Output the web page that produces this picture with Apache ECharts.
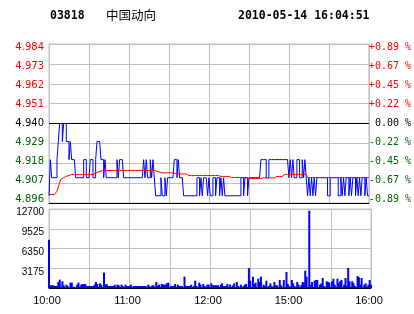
<!DOCTYPE html>
<html><head><meta charset="utf-8">
<script src="https://cdn.jsdelivr.net/npm/echarts@6/dist/echarts.min.js"></script>
<style>html,body{margin:0;padding:0;background:#fff}#c{width:414px;height:314px}</style>
</head><body><div id="c"></div>
<script>
const stockCode = '03818';
const stockName = '中国动向';
const timestamp = '2010-05-14 16:04:51';
const timeTickLabels = ['10:00','','11:00','','12:00','','15:00','','16:00'];
const priceTickLabels = ['4.896','4.907','4.918','4.929','4.940','4.951','4.962','4.973','4.984'];
const pctTickLabels = ['-0.89 %','-0.67 %','-0.45 %','-0.22 %',' 0.00 %','+0.22 %','+0.45 %','+0.67 %','+0.89 %'];
const volTickLabels = ['','3175','6350','9525','12700'];
const prevClose = 4.94;

// one value per trading minute, 10:00-12:30 then 14:30-16:00
const price = [
4.90,4.92,4.91,4.91,4.91,4.91,4.92,4.93,4.94,4.94,
4.93,4.94,4.94,4.93,4.93,4.92,4.93,4.92,4.92,4.92,
4.91,4.91,4.91,4.91,4.91,4.91,4.92,4.92,4.91,4.91,
4.91,4.92,4.92,4.91,4.91,4.92,4.93,4.93,4.93,4.92,
4.92,4.91,4.92,4.91,4.91,4.91,4.91,4.91,4.91,4.91,
4.91,4.92,4.91,4.92,4.92,4.92,4.91,4.91,4.91,4.91,
4.91,4.91,4.91,4.91,4.91,4.91,4.91,4.91,4.91,4.91,
4.91,4.92,4.91,4.92,4.91,4.91,4.92,4.91,4.92,4.91,
4.90,4.90,4.90,4.90,4.91,4.90,4.90,4.91,4.90,4.91,
4.91,4.91,4.91,4.91,4.92,4.92,4.91,4.92,4.91,4.91,
4.91,4.90,4.90,4.90,4.90,4.90,4.90,4.90,4.90,4.90,
4.90,4.91,4.91,4.90,4.91,4.90,4.91,4.91,4.91,4.90,
4.91,4.90,4.90,4.91,4.91,4.90,4.91,4.91,4.90,4.91,
4.90,4.91,4.90,4.90,4.90,4.90,4.90,4.90,4.90,4.90,
4.90,4.90,4.90,4.90,4.91,4.91,4.90,4.91,4.91,4.90,
4.91,4.91,4.91,4.91,4.91,4.91,4.91,4.91,4.91,4.92,
4.92,4.92,4.92,4.91,4.91,4.92,4.92,4.92,4.92,4.92,
4.92,4.92,4.92,4.92,4.92,4.92,4.92,4.92,4.92,4.92,
4.91,4.92,4.91,4.92,4.91,4.91,4.92,4.92,4.91,4.91,
4.92,4.91,4.92,4.91,4.90,4.91,4.90,4.91,4.90,4.91,
4.90,4.91,4.91,4.91,4.91,4.91,4.91,4.91,4.91,4.90,
4.90,4.91,4.91,4.91,4.91,4.91,4.91,4.90,4.90,4.91,
4.90,4.91,4.90,4.91,4.91,4.90,4.91,4.90,4.91,4.91,
4.90,4.91,4.90,4.91,4.90,4.91,4.91,4.90,4.91,4.90,
4.90
];
const avgPrice = [
4.9007,4.9007,4.9007,4.9007,4.9007,4.9007,4.9025,4.9048,4.9075,4.9092,
4.9099,4.9100,4.9103,4.9108,4.9108,4.9112,4.9116,4.9118,4.9118,4.9118,
4.9118,4.9118,4.9118,4.9118,4.9118,4.9118,4.9118,4.9118,4.9118,4.9118,
4.9118,4.9118,4.9118,4.9118,4.9122,4.9125,4.9128,4.9132,4.9134,4.9137,
4.9140,4.9140,4.9140,4.9140,4.9140,4.9140,4.9140,4.9140,4.9140,4.9140,
4.9140,4.9140,4.9140,4.9140,4.9140,4.9140,4.9140,4.9140,4.9140,4.9140,
4.9140,4.9140,4.9140,4.9140,4.9140,4.9140,4.9140,4.9140,4.9140,4.9140,
4.9140,4.9140,4.9140,4.9140,4.9140,4.9140,4.9140,4.9140,4.9140,4.9140,
4.9138,4.9136,4.9131,4.9131,4.9131,4.9127,4.9127,4.9127,4.9127,4.9127,
4.9127,4.9127,4.9127,4.9127,4.9127,4.9121,4.9121,4.9121,4.9121,4.9121,
4.9121,4.9121,4.9121,4.9121,4.9121,4.9112,4.9112,4.9112,4.9112,4.9112,
4.9112,4.9112,4.9112,4.9112,4.9112,4.9112,4.9112,4.9112,4.9112,4.9112,
4.9112,4.9112,4.9112,4.9112,4.9112,4.9112,4.9112,4.9112,4.9107,4.9107,
4.9107,4.9107,4.9107,4.9107,4.9107,4.9107,4.9107,4.9101,4.9101,4.9101,
4.9101,4.9101,4.9101,4.9101,4.9101,4.9101,4.9101,4.9101,4.9101,4.9096,
4.9096,4.9096,4.9096,4.9096,4.9096,4.9096,4.9096,4.9096,4.9096,4.9096,
4.9099,4.9099,4.9099,4.9099,4.9099,4.9099,4.9099,4.9099,4.9099,4.9099,
4.9099,4.9107,4.9107,4.9107,4.9107,4.9107,4.9118,4.9118,4.9118,4.9118,
4.9118,4.9118,4.9118,4.9118,4.9118,4.9118,4.9118,4.9118,4.9118,4.9118,
4.9118,4.9118,4.9118,4.9118,4.9101,4.9101,4.9101,4.9101,4.9101,4.9101,
4.9101,4.9101,4.9101,4.9101,4.9101,4.9101,4.9101,4.9101,4.9101,4.9101,
4.9101,4.9101,4.9101,4.9101,4.9101,4.9101,4.9101,4.9101,4.9101,4.9101,
4.9101,4.9101,4.9101,4.9101,4.9101,4.9101,4.9101,4.9101,4.9101,4.9101,
4.9101,4.9101,4.9101,4.9101,4.9101,4.9101,4.9101,4.9101,4.9101,4.9101,
4.9101
];
const volume = [
7770,430,430,430,320,320,320,960,1340,200,
1070,430,150,540,320,100,860,860,150,210,
100,540,860,150,540,640,640,640,320,320,
320,320,320,320,540,960,640,200,750,540,
150,2470,540,640,320,320,320,320,320,540,
150,540,430,150,540,320,150,540,320,320,
320,540,150,320,320,320,320,320,320,320,
320,320,320,150,540,320,150,430,430,150,
960,320,540,200,640,540,540,540,750,860,
150,320,320,320,640,150,540,320,320,320,
150,1820,320,320,320,320,540,150,320,1180,
320,150,860,540,150,640,320,150,540,540,
150,750,430,430,430,430,430,150,540,750,
320,320,320,640,150,540,150,430,750,150,
960,320,150,540,150,320,540,640,150,3220,
1180,150,1820,640,858,150,1500,965,1820,150,
536,320,1180,150,320,750,320,150,965,430,
430,150,1290,430,150,1290,150,2570,643,320,
150,1290,750,320,150,965,536,150,430,965,
858,2790,1820,150,12430,536,965,150,1180,1290,
1290,150,536,750,1610,320,150,1072,965,858,
150,1072,1500,536,150,1500,750,1072,1290,150,
536,1610,320,3220,1072,150,1072,750,320,150,
1930,1715,536,1610,150,536,750,150,536,1290,
536
];

const GRAY = '#c0c0c0';
const GREEN = '#006400';
const xy = arr => arr.map((v, i) => [i, v]);
const idxOf = v => Math.round((v - 4.896) / 0.011);
const labelColor = j => j > 4 ? '#ff0000' : (j === 4 ? '#000000' : GREEN);
function shiftPad(j) {
  const s = -3.62 + 0.915 * j;
  return s >= 0 ? [2 * s, 0, 0, 0] : [0, 0, -2 * s, 0];
}
const richLeft = {}, richRight = {};
for (let j = 0; j < 9; j++) {
  richLeft['s' + j] = {color: labelColor(j), padding: shiftPad(j), fontFamily: 'DejaVu Sans', fontSize: 10};
  richRight['s' + j] = {color: labelColor(j), padding: shiftPad(j), fontFamily: 'DejaVu Sans Mono', fontSize: 10};
}

const chart = echarts.init(document.getElementById('c'), null, {renderer: 'canvas'});
chart.setOption({
  animation: false,
  backgroundColor: '#ffffff',
  graphic: [
    {type: 'text', x: 50, y: 16.5, style: {text: stockCode, font: 'bold 11.5px "DejaVu Sans Mono"', fill: '#000', verticalAlign: 'middle'}},
    {type: 'text', x: 106, y: 15.5, style: {text: stockName, font: '12.5px "Noto Sans CJK SC"', fill: '#000', verticalAlign: 'middle'}},
    {type: 'text', x: 238, y: 16.5, style: {text: timestamp, font: 'bold 11.5px "DejaVu Sans Mono"', fill: '#000', verticalAlign: 'middle'}}
  ],
  grid: [
    {left: 49, right: 43, top: 44, height: 159, show: true, borderColor: GRAY, borderWidth: 1},
    {left: 49, right: 43, top: 209, height: 79, show: true, borderColor: GRAY, borderWidth: 1}
  ],
  xAxis: [
    {gridIndex: 0, type: 'value', min: 0, max: 240, interval: 30,
     axisLine: {show: true, lineStyle: {color: '#000', width: 1}}, axisTick: {show: false},
     axisLabel: {show: false}, splitLine: {show: true, lineStyle: {color: GRAY, width: 1}}},
    {gridIndex: 1, type: 'value', min: 0, max: 240, interval: 30,
     axisLine: {show: true, lineStyle: {color: '#000', width: 1}}, axisTick: {show: false},
     axisLabel: {show: true, margin: 7, color: '#000', fontFamily: 'Liberation Sans', fontSize: 11,
       padding: [0, 4, 0, 0],
       formatter: v => timeTickLabels[Math.round(v / 30)] || ''},
     splitLine: {show: true, lineStyle: {color: GRAY, width: 1}}}
  ],
  yAxis: [
    {gridIndex: 0, type: 'value', position: 'left', min: 4.896, max: 4.984, interval: 0.011,
     axisLine: {show: false}, axisTick: {show: false},
     splitLine: {show: true, lineStyle: {color: GRAY, width: 1}},
     axisLabel: {margin: 5, formatter: v => { const j = idxOf(v); return '{s' + j + '|' + priceTickLabels[j] + '}'; }, rich: richLeft}},
    {gridIndex: 0, type: 'value', position: 'right', min: 4.896, max: 4.984, interval: 0.011,
     axisLine: {show: false}, axisTick: {show: false}, splitLine: {show: false},
     axisLabel: {margin: 0, align: 'left', formatter: v => { const j = idxOf(v); return '{s' + j + '|' + pctTickLabels[j] + '}'; }, rich: richRight}},
    {gridIndex: 1, type: 'value', position: 'left', min: 0, max: 12700, interval: 3175,
     axisLine: {show: false}, axisTick: {show: false},
     splitLine: {show: true, lineStyle: {color: GRAY, width: 1}},
     axisLabel: {margin: 5, formatter: v => '{v|' + volTickLabels[Math.round(v / 3175)] + '}',
       rich: {v: {color: '#000', fontFamily: 'Liberation Sans', fontSize: 10, padding: [7, 0, 0, 0]}}}}
  ],
  series: [
    {type: 'line', xAxisIndex: 0, yAxisIndex: 0, data: xy(price), step: 'end', showSymbol: false, symbol: 'none',
     lineStyle: {color: '#0000ff', width: 1}, z: 3,
     markLine: {silent: true, symbol: ['none', 'none'], label: {show: false},
       lineStyle: {color: '#000', type: 'solid', width: 1}, data: [{yAxis: prevClose}]}},
    {type: 'line', xAxisIndex: 0, yAxisIndex: 0, data: xy(avgPrice), showSymbol: false, symbol: 'none',
     lineStyle: {color: '#ff0000', width: 1}, z: 4},
    {type: 'bar', xAxisIndex: 1, yAxisIndex: 2, data: xy(volume), barWidth: 2,
     itemStyle: {color: '#0000ff'}}
  ]
});
</script></body></html>
